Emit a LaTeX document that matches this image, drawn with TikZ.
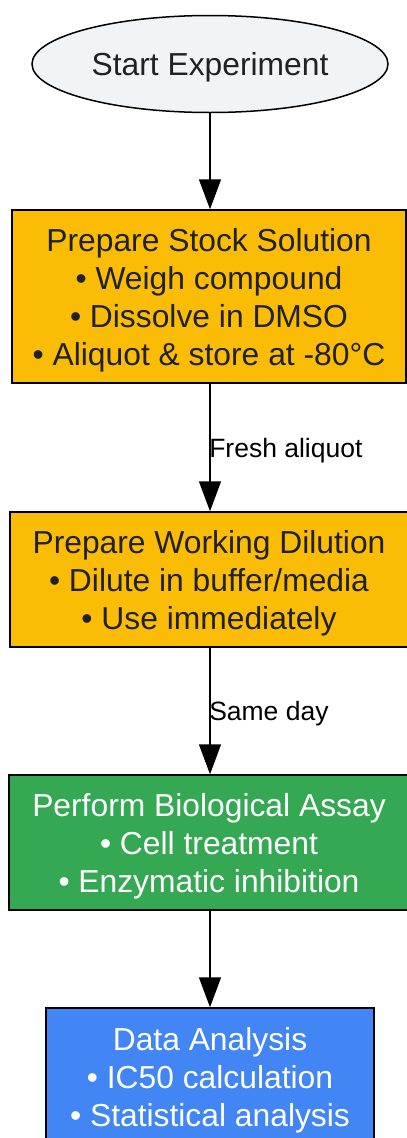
\documentclass[tikz,border=0pt]{standalone}
\usepackage{fontspec}
\setmainfont{Liberation Sans}
\usepackage{xcolor}
\usetikzlibrary{arrows.meta,shapes.geometric}
\definecolor{startgray}{HTML}{F1F3F4}
\definecolor{stockyellow}{HTML}{FBBC05}
\definecolor{assaygreen}{HTML}{34A853}
\definecolor{datablue}{HTML}{4285F4}
\definecolor{textdark}{HTML}{202124}
\tikzset{
  stepbox/.style={draw=black,line width=1.5pt,align=center,inner sep=0pt,text depth=0pt,text=textdark,font=\fontsize{31.8}{38}\selectfont},
  startoval/.style={stepbox,ellipse,fill=startgray,minimum width=356pt,minimum height=97pt},
  flowarrow/.style={line width=1.5pt,-{Triangle[width=22pt,length=30pt]}},
  flowlabel/.style={anchor=west,inner sep=0pt,text depth=0pt,xshift=-1.5pt,text=black,font=\fontsize{26.5}{30}\selectfont}
}

\begin{document}
\begin{tikzpicture}[x=1pt,y=-1pt]
  \useasboundingbox (0,0) rectangle (407,1138);
  \node[startoval] (start) at (210,64) {Start Experiment};
  \node[stepbox,fill=stockyellow,minimum width=394pt,minimum height=173pt] (stock) at (209,296.5)
    {Prepare Stock Solution\\ \textbullet\ Weigh compound\\ \textbullet\ Dissolve in DMSO\\ \textbullet\ Aliquot \& store at -80\textdegree C};
  \node[stepbox,fill=stockyellow,minimum width=398pt,minimum height=135pt] (working) at (209,579.5)
    {Prepare Working Dilution\\ \textbullet\ Dilute in buffer/media\\ \textbullet\ Use immediately};
  \node[stepbox,fill=assaygreen,text=white,minimum width=400pt,minimum height=135pt] (assay) at (209,842.5)
    {Perform Biological Assay\\ \textbullet\ Cell treatment\\ \textbullet\ Enzymatic inhibition};
  \node[stepbox,fill=datablue,text=white,minimum width=328pt,minimum height=138pt] (data) at (210,1077)
    {Data Analysis\\ \textbullet\ IC50 calculation\\ \textbullet\ Statistical analysis};
  % connectors
  \draw[flowarrow] (start) -- (stock.north -| start);
  \draw[flowarrow] (stock.south -| start) -- node[flowlabel] (fresh) {Fresh aliquot} (working.north -| start);
  \draw[flowarrow] (working.south -| start) -- node[flowlabel] (sameday) {Same day} (assay.north -| start);
  \draw[flowarrow] (assay.south -| start) -- (data);
\end{tikzpicture}
\end{document}
